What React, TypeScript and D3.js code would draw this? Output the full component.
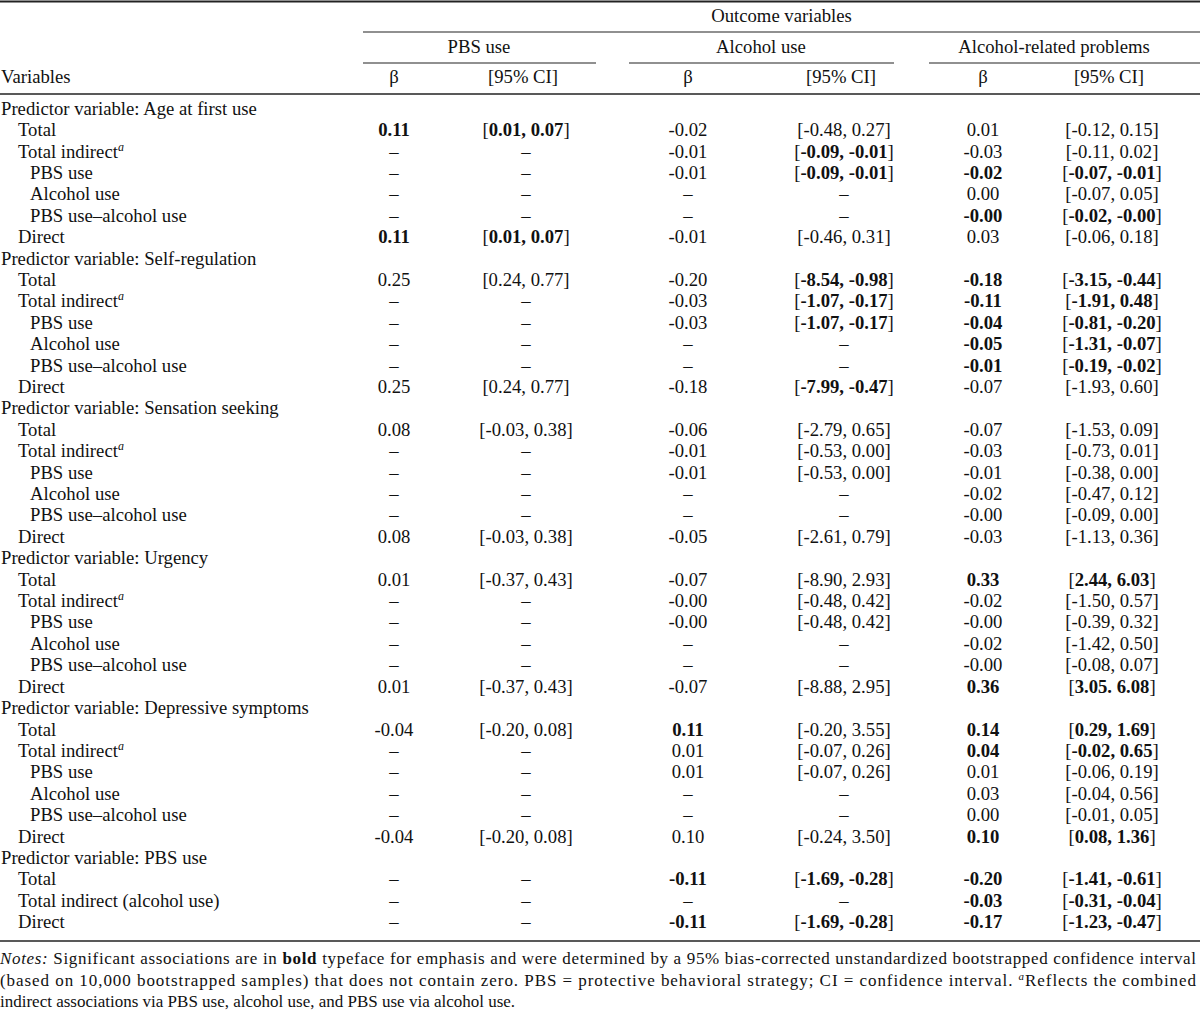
import React from "react";
import * as d3 from "d3";

const outcomes = ["PBS use", "Alcohol use", "Alcohol-related problems"];
const colHeads = ["β", "[95% CI]"];

// level 0 = predictor header, 1 = effect, 2 = sub-effect; "^a" marks superscript a
const rowLabels = [
  "Predictor variable: Age at first use", "Total", "Total indirect^a", "PBS use", "Alcohol use", "PBS use–alcohol use", "Direct",
  "Predictor variable: Self-regulation", "Total", "Total indirect^a", "PBS use", "Alcohol use", "PBS use–alcohol use", "Direct",
  "Predictor variable: Sensation seeking", "Total", "Total indirect^a", "PBS use", "Alcohol use", "PBS use–alcohol use", "Direct",
  "Predictor variable: Urgency", "Total", "Total indirect^a", "PBS use", "Alcohol use", "PBS use–alcohol use", "Direct",
  "Predictor variable: Depressive symptoms", "Total", "Total indirect^a", "PBS use", "Alcohol use", "PBS use–alcohol use", "Direct",
  "Predictor variable: PBS use", "Total", "Total indirect (alcohol use)", "Direct",
];
const rowLevels = [
  0, 1, 1, 2, 2, 2, 1,
  0, 1, 1, 2, 2, 2, 1,
  0, 1, 1, 2, 2, 2, 1,
  0, 1, 1, 2, 2, 2, 1,
  0, 1, 1, 2, 2, 2, 1,
  0, 1, 1, 1,
];

// "*" prefix = bold (significant)
const D = "–";
const pbsBeta = [
  "", "*0.11", D, D, D, D, "*0.11",
  "", "0.25", D, D, D, D, "0.25",
  "", "0.08", D, D, D, D, "0.08",
  "", "0.01", D, D, D, D, "0.01",
  "", "-0.04", D, D, D, D, "-0.04",
  "", D, D, D,
];
const pbsCI = [
  "", "*[0.01, 0.07]", D, D, D, D, "*[0.01, 0.07]",
  "", "[0.24, 0.77]", D, D, D, D, "[0.24, 0.77]",
  "", "[-0.03, 0.38]", D, D, D, D, "[-0.03, 0.38]",
  "", "[-0.37, 0.43]", D, D, D, D, "[-0.37, 0.43]",
  "", "[-0.20, 0.08]", D, D, D, D, "[-0.20, 0.08]",
  "", D, D, D,
];
const alcBeta = [
  "", "-0.02", "-0.01", "-0.01", D, D, "-0.01",
  "", "-0.20", "-0.03", "-0.03", D, D, "-0.18",
  "", "-0.06", "-0.01", "-0.01", D, D, "-0.05",
  "", "-0.07", "-0.00", "-0.00", D, D, "-0.07",
  "", "*0.11", "0.01", "0.01", D, D, "0.10",
  "", "*-0.11", D, "*-0.11",
];
const alcCI = [
  "", "[-0.48, 0.27]", "*[-0.09, -0.01]", "*[-0.09, -0.01]", D, D, "[-0.46, 0.31]",
  "", "*[-8.54, -0.98]", "*[-1.07, -0.17]", "*[-1.07, -0.17]", D, D, "*[-7.99, -0.47]",
  "", "[-2.79, 0.65]", "[-0.53, 0.00]", "[-0.53, 0.00]", D, D, "[-2.61, 0.79]",
  "", "[-8.90, 2.93]", "[-0.48, 0.42]", "[-0.48, 0.42]", D, D, "[-8.88, 2.95]",
  "", "[-0.20, 3.55]", "[-0.07, 0.26]", "[-0.07, 0.26]", D, D, "[-0.24, 3.50]",
  "", "*[-1.69, -0.28]", D, "*[-1.69, -0.28]",
];
const probBeta = [
  "", "0.01", "-0.03", "*-0.02", "0.00", "*-0.00", "0.03",
  "", "*-0.18", "*-0.11", "*-0.04", "*-0.05", "*-0.01", "-0.07",
  "", "-0.07", "-0.03", "-0.01", "-0.02", "-0.00", "-0.03",
  "", "*0.33", "-0.02", "-0.00", "-0.02", "-0.00", "*0.36",
  "", "*0.14", "*0.04", "0.01", "0.03", "0.00", "*0.10",
  "", "*-0.20", "*-0.03", "*-0.17",
];
const probCI = [
  "", "[-0.12, 0.15]", "[-0.11, 0.02]", "*[-0.07, -0.01]", "[-0.07, 0.05]", "*[-0.02, -0.00]", "[-0.06, 0.18]",
  "", "*[-3.15, -0.44]", "*[-1.91, 0.48]", "*[-0.81, -0.20]", "*[-1.31, -0.07]", "*[-0.19, -0.02]", "[-1.93, 0.60]",
  "", "[-1.53, 0.09]", "[-0.73, 0.01]", "[-0.38, 0.00]", "[-0.47, 0.12]", "[-0.09, 0.00]", "[-1.13, 0.36]",
  "", "*[2.44, 6.03]", "[-1.50, 0.57]", "[-0.39, 0.32]", "[-1.42, 0.50]", "[-0.08, 0.07]", "*[3.05. 6.08]",
  "", "*[0.29, 1.69]", "*[-0.02, 0.65]", "[-0.06, 0.19]", "[-0.04, 0.56]", "[-0.01, 0.05]", "*[0.08, 1.36]",
  "", "*[-1.41, -0.61]", "*[-0.31, -0.04]", "*[-1.23, -0.47]",
];

const columns = [pbsBeta, pbsCI, alcBeta, alcCI, probBeta, probCI];

const W = 1200;
const H = 1010;
const FONT = "'Liberation Serif', 'Times New Roman', serif";
const FS = 18.7;
const colX = [394, 526, 688, 844, 983, 1112];
const groupSpans: [number, number][] = [[363, 596], [629, 894], [929, 1200]];
const groupTextX = [479, 761, 1054];
const indentX = [1, 18, 30];
const BASE = 6.2; // baseline offset from visual centre

const y = d3.scaleLinear().domain([0, rowLabels.length - 1]).range([108.5, 922]);

function Label({ text, x, yy }: { text: string; x: number; yy: number }) {
  const sup = text.endsWith("^a");
  const main = sup ? text.slice(0, -2) : text;
  return (
    <text x={x} y={yy + BASE}>
      {main}
      {sup && (
        <tspan fontStyle="italic" fontSize={12} dy={-7}>a</tspan>
      )}
    </text>
  );
}

function Cell({ v, x, yy }: { v: string; x: number; yy: number }) {
  if (!v) return null;
  const bold = v.startsWith("*");
  const s = bold ? v.slice(1) : v;
  if (bold && s.startsWith("[")) {
    return (
      <text x={x} y={yy + BASE} textAnchor="middle">
        [<tspan fontWeight="bold">{s.slice(1, -1)}</tspan>]
      </text>
    );
  }
  return (
    <text x={x} y={yy + BASE} textAnchor="middle" fontWeight={bold ? "bold" : "normal"}>
      {s}
    </text>
  );
}

export default function App() {
  React.useEffect(() => {
    document.body.style.margin = "0";
  }, []);
  return (
    <svg
      width={W}
      height={H}
      viewBox={`0 0 ${W} ${H}`}
      style={{ display: "block", position: "absolute", left: 0, top: 0, background: "#fff" }}
      fontFamily={FONT}
      fontSize={FS}
      fill="#111"
    >
      <rect x={0} y={0} width={W} height={H} fill="#fff" />
      {/* rules */}
      <line x1={0} x2={W} y1={1.5} y2={1.5} stroke="#222" strokeWidth={2} />
      <line x1={363} x2={W} y1={32} y2={32} stroke="#222" strokeWidth={1.2} />
      {groupSpans.map(([a, b], i) => (
        <line key={i} x1={a} x2={b} y1={63} y2={63} stroke="#222" strokeWidth={1.2} />
      ))}
      <line x1={0} x2={W} y1={94} y2={94} stroke="#222" strokeWidth={1.4} />
      <line x1={0} x2={W} y1={941} y2={941} stroke="#222" strokeWidth={1.6} />

      {/* headers */}
      <text x={(363 + W) / 2} y={16 + BASE} textAnchor="middle">Outcome variables</text>
      {outcomes.map((o, i) => (
        <text key={o} x={groupTextX[i]} y={47 + BASE} textAnchor="middle">
          {o}
        </text>
      ))}
      <text x={1} y={77 + BASE}>Variables</text>
      {colX.map((cx, i) => (
        <text key={i} x={i % 2 ? cx - 3 : cx} y={77 + BASE} textAnchor="middle">
          {colHeads[i % 2]}
        </text>
      ))}

      {/* body */}
      {rowLabels.map((lab, r) => (
        <g key={r}>
          <Label text={lab} x={indentX[rowLevels[r]]} yy={y(r)} />
          {columns.map((col, c) => (
            <Cell key={c} v={col[r]} x={colX[c]} yy={y(r)} />
          ))}
        </g>
      ))}

      {/* notes */}
      <g fontSize={17}>
        <text x={0} y={964} textLength={1196} lengthAdjust="spacing">
          <tspan fontStyle="italic">Notes:</tspan> Significant associations are in <tspan fontWeight="bold">bold</tspan> typeface for emphasis and were determined by a 95% bias-corrected unstandardized bootstrapped confidence interval
        </text>
        <text x={0} y={985.5} textLength={1196} lengthAdjust="spacing">
          (based on 10,000 bootstrapped samples) that does not contain zero. PBS = protective behavioral strategy; CI = confidence interval.{" "}
          <tspan fontStyle="italic" fontSize={11} dy={-6}>a</tspan>
          <tspan dy={6}>Reflects the combined</tspan>
        </text>
        <text x={0} y={1006.5}>
          indirect associations via PBS use, alcohol use, and PBS use via alcohol use.
        </text>
      </g>
    </svg>
  );
}
